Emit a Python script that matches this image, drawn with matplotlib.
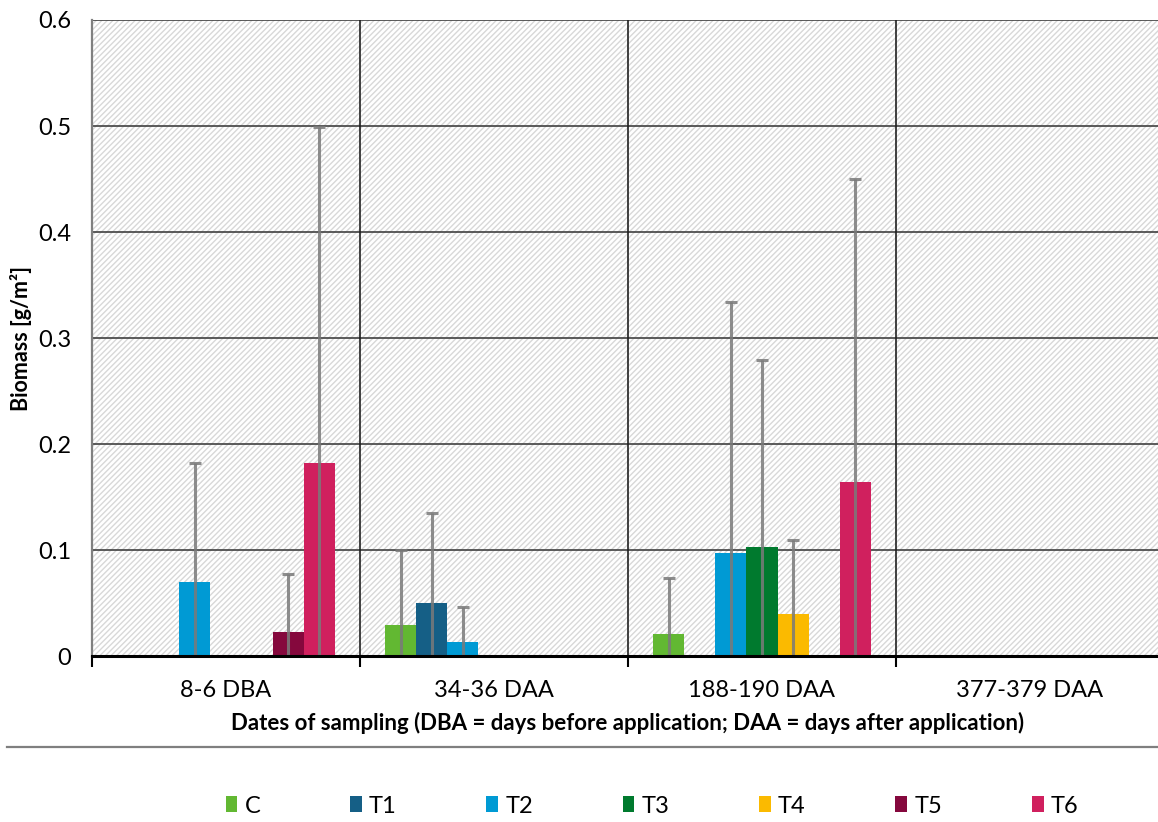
import matplotlib
matplotlib.use('Agg')  # no UI backend

import numpy as np
import matplotlib.pyplot as plt
from matplotlib.patches import Rectangle, Patch
from matplotlib.lines import Line2D

categories = ["8-6 DBA", "34-36 DAA", "188-190 DAA", "377-379 DAA"]
treatments = ["C", "T1", "T2", "T3", "T4", "T5", "T6"]

# mean biomass per treatment and sampling date [g/m2]
C_mean = [0.0, 0.029, 0.021, 0.0]
T1_mean = [0.0, 0.050, 0.0, 0.0]
T2_mean = [0.070, 0.013, 0.097, 0.0]
T3_mean = [0.0, 0.0, 0.103, 0.0]
T4_mean = [0.0, 0.0, 0.040, 0.0]
T5_mean = [0.023, 0.0, 0.0, 0.0]
T6_mean = [0.182, 0.0, 0.164, 0.0]

# standard deviation (upper error bar)
C_sd = [0.0, 0.071, 0.053, 0.0]
T1_sd = [0.0, 0.085, 0.0, 0.0]
T2_sd = [0.112, 0.033, 0.237, 0.0]
T3_sd = [0.0, 0.0, 0.176, 0.0]
T4_sd = [0.0, 0.0, 0.069, 0.0]
T5_sd = [0.054, 0.0, 0.0, 0.0]
T6_sd = [0.317, 0.0, 0.286, 0.0]

means = [C_mean, T1_mean, T2_mean, T3_mean, T4_mean, T5_mean, T6_mean]
sds = [C_sd, T1_sd, T2_sd, T3_sd, T4_sd, T5_sd, T6_sd]
colors = ["#62b832", "#155f86", "#009ad4", "#007a2e", "#fbba00", "#85083d", "#d0205e"]

plt.rcParams['font.family'] = ['Lato', 'DejaVu Sans']
plt.rcParams['hatch.linewidth'] = 1.0
plt.rcParams['hatch.color'] = '#d8d8d8'

fig = plt.figure(figsize=(11.58, 8.22), dpi=100)
ax = fig.add_axes([92/1158, 1-656/822, (1164-92)/1158, (656-20)/822])

# hatched plot background
bg = Rectangle((0, 0), 1, 1, transform=ax.transAxes, facecolor='white',
               edgecolor='#d8d8d8', hatch='//////', linewidth=0, zorder=0)
ax.add_patch(bg)

x = np.arange(len(categories))
width = 0.1157
for i in range(len(treatments)):
    pos = x + (i - 3) * width
    m = np.array(means[i])
    s = np.array(sds[i])
    ax.bar(pos, m, width, color=colors[i], zorder=3, label=treatments[i])
    keep = s > 0
    ax.errorbar(pos[keep], m[keep], yerr=[m[keep], s[keep]], fmt='none',
                ecolor='#7a7a7a', alpha=0.85, elinewidth=2.2, capsize=4,
                capthick=2.2, zorder=4)

ax.set_xlim(-0.5, len(categories) - 0.5)
ax.set_ylim(0, 0.6)
ax.set_yticks(np.arange(0, 0.61, 0.1))
ax.set_yticklabels(["0", "0.1", "0.2", "0.3", "0.4", "0.5", "0.6"])
ax.set_xticks(x)
ax.set_xticklabels(categories)
ax.set_xticks(np.arange(-0.5, len(categories), 1), minor=True)
ax.tick_params(axis='x', which='major', length=0, pad=17, labelsize=17)
ax.tick_params(axis='x', which='minor', length=8, width=1.5, color='black')
ax.tick_params(axis='y', length=0, pad=15, labelsize=17)

# grid lines
for yv in np.arange(0.1, 0.61, 0.1):
    ax.axhline(yv, color='#404040', linewidth=1.2, zorder=1)
for xv in np.arange(0.5, len(categories) - 0.5, 1):
    ax.axvline(xv, color='#202020', linewidth=1.2, zorder=1)

ax.spines['top'].set_visible(False)
ax.spines['right'].set_visible(False)
ax.spines['left'].set_color('#808080')
ax.spines['left'].set_linewidth(1.6)
ax.spines['bottom'].set_color('black')
ax.spines['bottom'].set_linewidth(2.2)
ax.spines['bottom'].set_zorder(5)

ax.set_ylabel("Biomass [g/m²]", fontsize=15.5, fontweight='bold')
ax.yaxis.set_label_coords(-0.056, 0.5)
ax.set_xlabel("Dates of sampling (DBA = days before application; DAA = days after application)",
              fontsize=16, fontweight='bold', labelpad=8)

# separator line above legend
fig.add_artist(Line2D([7/1158, 1], [1-747/822, 1-747/822], color='#7f7f7f', linewidth=1.6))

handles = [Patch(facecolor=c) for c in colors]
fig.legend(handles, treatments, loc='center', bbox_to_anchor=(652/1158, 1-806/822),
           ncol=7, frameon=False, fontsize=17, handlelength=0.5, handleheight=0.65,
           handletextpad=0.3, columnspacing=3.8)

plt.savefig("out.png", dpi=100)
